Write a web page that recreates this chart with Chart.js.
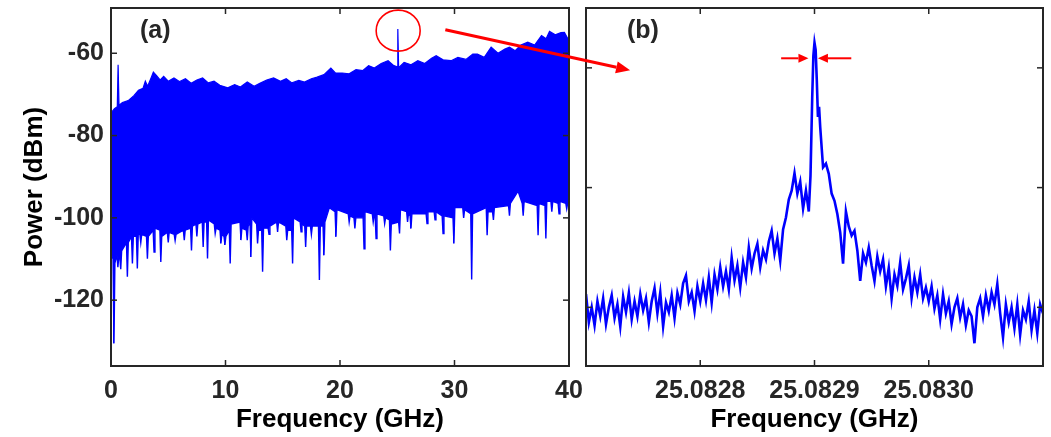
<!DOCTYPE html>
<html><head><meta charset="utf-8">
<script src="https://cdn.jsdelivr.net/npm/chart.js@4.4.1/dist/chart.umd.min.js"></script>
<style>
html,body{margin:0;padding:0;background:#fff;overflow:hidden}
#wrap{position:relative;width:1051px;height:437px}
canvas{position:absolute;top:0}
</style></head><body>
<div id="wrap">
<canvas id="ca" width="610" height="437" style="left:0"></canvas>
<canvas id="cb" width="473" height="437" style="left:578px"></canvas>
<canvas id="ov" width="1051" height="437" style="left:0;pointer-events:none"></canvas>
</div>
<script>
// ---------- Panel (a): full-span spectrum, upper & lower envelopes ----------
const upperFreqGHz = [0,0.3,0.55,0.62,0.7,1.0,1.5,2.0,2.4,2.8,3.0,3.2,3.5,3.7,4.0,4.3,4.6,5.0,5.5,6.0,6.5,7.0,7.5,8.0,8.5,9.0,9.5,10.2,10.8,11.3,11.9,12.5,13.0,13.6,14.2,14.8,15.3,15.8,16.4,16.9,17.5,18.0,18.6,19.2,19.6,20.2,20.8,21.4,22.0,22.5,23.0,23.6,24.2,24.7,25.0,25.05,25.12,25.6,26.2,26.8,27.4,28.0,28.4,29.0,29.7,30.3,31.0,31.6,32.0,32.6,33.2,33.8,34.4,34.8,35.3,35.8,36.4,37.0,37.6,38.0,38.3,38.8,39.3,39.6,39.9,40.0];
const upperPowerDBm = [-74.5,-73.5,-73.0,-62.8,-72.6,-72.0,-71.5,-70.3,-69.0,-68.5,-66.8,-68.0,-66.0,-64.6,-65.5,-66.5,-65.6,-66.8,-66.0,-66.9,-66.2,-67.3,-66.5,-66.0,-67.2,-66.8,-67.8,-68.4,-67.6,-68.2,-67.0,-68.0,-67.3,-66.5,-66.0,-66.8,-66.2,-67.2,-66.6,-67.0,-66.2,-65.8,-65.2,-63.6,-64.8,-64.8,-65.0,-64.0,-64.2,-63.0,-63.6,-62.5,-61.8,-63.0,-63.3,-54.1,-63.5,-62.2,-62.8,-61.8,-62.5,-61.2,-60.6,-61.6,-61.8,-61.0,-61.5,-60.2,-60.2,-61.0,-58.5,-60.0,-59.0,-58.5,-59.4,-58.0,-57.3,-58.0,-55.7,-56.5,-54.7,-55.5,-55.0,-54.9,-56.5,-57.0];
// lower edge: solid-floor level on each side of every narrow downward spike
const lowerFreqGHz = [0.0,
  0.18,0.26,0.34, 0.52,0.6,0.68, 0.77,0.85,0.93, 1.35,1.43,1.51, 1.79,1.87,1.95,
  2.22,2.3,2.38, 2.52,2.6,2.68, 3.1,3.18,3.26, 3.68,3.76,3.84, 4.27,4.35,4.43,
  4.92,5.0,5.08, 5.52,5.6,5.68, 6.32,6.4,6.48, 6.95,7.03,7.11, 7.42,7.5,7.58,
  7.97,8.05,8.13, 8.35,8.43,8.51, 9.02,9.1,9.18, 9.52,9.6,9.68, 9.87,9.95,10.03,
  10.33,10.41,10.49, 11.27,11.35,11.43, 11.82,11.9,11.98, 12.14,12.22,12.3, 12.72,12.8,12.88,
  13.16,13.24,13.32, 13.72,13.8,13.88, 14.47,14.55,14.63, 15.27,15.35,15.43, 15.78,15.86,15.94,
  16.52,16.6,16.68, 16.92,17.0,17.08, 17.42,17.5,17.58, 18.12,18.2,18.28, 18.52,18.6,18.68,
  19.07,
  19.57,19.65,19.73, 20.72,20.8,20.88, 21.22,21.3,21.38, 22.02,22.1,22.18, 22.82,22.9,22.98,
  23.07,23.15,23.23, 23.82,23.9,23.98, 24.32,24.4,24.48, 25.12,25.2,25.28, 25.82,25.9,25.98,
  26.12,26.2,26.28, 27.52,27.6,27.68, 28.22,28.3,28.38, 28.92,29.0,29.08, 29.87,29.95,30.03,
  30.72,30.8,30.88, 31.42,31.5,31.58, 32.77,32.85,32.93, 33.32,33.4,33.48, 34.72,34.8,34.88,
  35.55,
  35.92,36.0,36.08, 37.22,37.3,37.38, 37.9,37.98,38.06, 38.42,38.5,38.58, 39.05,39.13,39.21,
  39.72,39.8,39.88, 40.0];
const lowerPowerDBm = [-108.7,
  -110,-130.5,-111, -109,-112,-109.5, -109.5,-112.5,-108, -106,-114.3,-106, -104.5,-111.1,-104.5,
  -104.5,-112.3,-104, -104,-106,-104, -104.5,-109.9,-104.5, -103,-108.3,-102.5, -103,-110.7,-104.5,
  -103.5,-106,-103.5, -104,-105.5,-104, -103,-105.4,-103, -102.5,-107.9,-102, -101.5,-104.5,-101.5,
  -101,-107.1,-101, -101,-109.9,-100.5, -101.5,-103.8,-102.5, -103,-106.2,-104, -104.5,-106.6,-104.5,
  -103,-111.1,-101.5, -101,-105.4,-102.5, -103,-105.4,-102, -101,-109.5,-100, -101.5,-106.2,-103,
  -103,-113.1,-102.5, -102.5,-104,-102, -101,-103.4,-101, -102,-105.4,-103, -103,-111.1,-100,
  -101,-103.4,-101.5, -102,-107.1,-102, -102,-104,-102, -102,-115.1,-102, -102,-109.1,-101,
  -97.5,
  -98.5,-104.6,-98, -99,-101,-99.5, -100,-102.6,-100, -100,-107.5,-98.5, -99,-101,-99.5,
  -99.5,-105.0,-99, -99.5,-101.4,-100, -100.5,-107.9,-101.5, -101,-103.8,-98, -98.5,-101,-99,
  -99.5,-102.6,-99, -99,-101.4,-98.5, -98.5,-100.5,-98.5, -99.5,-103.8,-99.5, -100,-106.2,-97.5,
  -97.5,-100,-98, -99,-115.0,-99, -97.5,-104.2,-98.5, -98.5,-100.5,-97.5, -97,-99.5,-96.5,
  -93.5,
  -96.5,-99.5,-96, -97,-104.2,-96.5, -97,-105.0,-96, -96,-98.5,-96, -96.5,-99.0,-96,
  -96.5,-97.8,-96.5, -97];
const leftXTicks = [0,10,20,30,40];
const leftYTicks = [-120,-100,-80,-60];

// ---------- Panel (b): zoom on the 25.0829 GHz line ----------
const zoomBaseGHz = 25.0827;
const zoomOffsetKHz = [
  0,2.5,5,7.5,10,12.5,15,17.5,20,
  22.5,25,27.5,30,32.5,35,37.5,40,42.5,45,47.5,50,
  52.5,55,57.5,60,62.5,65,67.5,70,72.5,75,77.5,80,
  82.5,85,87.5,90,92.5,95,97.5,100,
  102.5,105,107.5,110,112.5,115,117.5,120,
  122.5,125,127.5,130,132.5,135,137.5,140,
  142.5,145,147.5,150,152.5,155,157.5,160,
  162.5,165,167.5,170,172.5,175,
  177.5,180,182.5,185,187.5,190,192.5,195,
  196.5,198,199,200,201,202,203,204,205,
  207.5,210,212.5,215,217.5,220,222.5,225,227.5,230,
  232.5,235,237.5,240,242.5,245,247.5,250,252.5,255,
  257.5,260,262.5,265,267.5,270,272.5,275,277.5,280,
  282.5,285,287.5,290,292.5,295,297.5,300,302.5,305,
  307.5,310,312.5,315,317.5,320,322.5,325,327.5,330,
  332.5,335,337.5,340,342.5,345,347.5,350,352.5,355,
  357.5,360,362.5,365,367.5,370,372.5,375,377.5,380,
  382.5,385,387.5,390,392.5,395,397.5,400];
const zoomPowerDBm = [
  -97.8,-102.5,-100.0,-103.0,-99.0,-101.5,-98.5,-102.8,-100.0,
  -98.0,-101.8,-99.5,-103.2,-98.2,-100.8,-97.6,-102.0,-99.0,-101.5,-97.8,-100.5,
  -98.5,-102.5,-99.0,-96.8,-101.0,-97.5,-103.2,-99.2,-100.8,-98.0,-101.8,-97.6,
  -99.5,-96.0,-94.7,-99.0,-97.5,-100.6,-96.5,-99.0,
  -96.0,-98.8,-95.0,-99.2,-94.5,-97.0,-93.3,-96.5,
  -94.0,-97.0,-91.7,-95.5,-93.0,-96.7,-92.5,-95.0,
  -90.0,-93.5,-91.0,-89.4,-93.3,-90.5,-92.0,-89.0,
  -87.2,-91.0,-88.5,-92.2,-87.0,-85.0,
  -82.0,-80.5,-77.6,-81.0,-79.0,-83.5,-80.5,-84.0,
  -78.0,-65.0,-58.0,-55.8,-57.0,-62.0,-68.2,-66.5,-69.9,
  -76.6,-76.0,-77.7,-81.0,-82.2,-84.4,-87.5,-92.7,-84.0,-86.5,
  -88.0,-87.2,-90.5,-95.6,-91.0,-92.5,-90.0,-93.0,-95.6,-91.5,
  -94.0,-92.0,-96.5,-93.4,-98.5,-94.5,-96.4,-92.5,-97.0,-95.2,
  -93.0,-98.4,-95.0,-97.5,-94.5,-98.5,-96.7,-99.0,-96.5,-100.2,
  -98.0,-102.0,-97.8,-101.0,-99.0,-102.8,-100.0,-98.5,-101.7,-99.5,
  -103.0,-100.5,-101.5,-106.0,-100.0,-98.5,-101.5,-98.0,-100.5,-97.5,
  -99.5,-96.1,-101.0,-105.0,-99.5,-102.5,-100.0,-103.5,-99.5,-104.6,
  -100.5,-102.0,-99.0,-103.8,-100.5,-104.3,-99.5,-101.0];
const rightXTicks = [25.0828, 25.0829, 25.0830];
const rightYTicks = [-100, -80, -60];

// ---------- annotations (red marks) ----------
const circleMark = {freqGHz: 25.08, powerDBm: -54.5, rx: 22, ry: 20.5};
const zoomArrow = {fromGHz: 29.2, fromDBm: -54.3, toKHz: 38.6, toDBm: -60.4};
const widthArrows = [
  {fromKHz: 170.8, toKHz: 194.7, dBm: -58.4},
  {fromKHz: 232.2, toKHz: 203.0, dBm: -58.4}
];

// ---------- styling ----------
const FONT = "'Liberation Sans', Arial, sans-serif";
const AXIS_COLOR = '#262626';
const BLUE = '#0000ff';
const RED = '#ff0000';
Chart.defaults.font.family = FONT;

const zip = (xs, ys) => xs.slice(0, Math.min(xs.length, ys.length)).map((x, i) => ({x, y: ys[i]}));

const framePlugin = {
  id: 'frame',
  afterDraw(chart, args, opts) {
    const {ctx, chartArea: a, scales} = chart;
    ctx.save();
    ctx.strokeStyle = AXIS_COLOR;
    ctx.lineWidth = 1.5;
    const L = 6;
    const seg = (x1, y1, x2, y2) => { ctx.beginPath(); ctx.moveTo(x1, y1); ctx.lineTo(x2, y2); ctx.stroke(); };
    for (const t of scales.x.ticks) {
      const x = scales.x.getPixelForValue(t.value);
      seg(x, a.bottom, x, a.bottom - L);
      seg(x, a.top, x, a.top + L);
    }
    for (const t of scales.y.ticks) {
      const y = scales.y.getPixelForValue(t.value);
      seg(a.left, y, a.left + L, y);
      seg(a.right, y, a.right - L, y);
    }
    ctx.lineWidth = 2;
    ctx.strokeRect(a.left, a.top, a.right - a.left, a.bottom - a.top);
    ctx.fillStyle = AXIS_COLOR;
    ctx.font = `bold 25px ${FONT}`;
    ctx.textAlign = 'left';
    ctx.textBaseline = 'alphabetic';
    ctx.fillText(opts.label, a.left + opts.dx, a.top + opts.dy);
    ctx.restore();
  }
};

const tickFont = {size: 25, weight: 'bold'};
const titleFont = {size: 26, weight: 'bold'};

function xAxis(min, max, ticks, fmt) {
  return {
    type: 'linear', min, max,
    afterBuildTicks: s => { s.ticks = ticks.map(v => ({value: v})); },
    afterFit: s => { s.height = 71; s.paddingLeft = 0; s.paddingRight = 0; },
    grid: {display: false, drawTicks: false},
    border: {display: false},
    ticks: {font: tickFont, color: AXIS_COLOR, padding: 10, maxRotation: 0, autoSkip: false,
            callback: v => fmt(v)},
    title: {display: true, text: 'Frequency (GHz)', font: titleFont, color: '#000', padding: {top: 0, bottom: 2}}
  };
}

const chartA = new Chart(document.getElementById('ca'), {
  type: 'line',
  data: {datasets: [
    {data: zip(upperFreqGHz, upperPowerDBm), borderColor: BLUE, backgroundColor: BLUE, borderWidth: 1.2, pointRadius: 0, fill: '+1', tension: 0},
    {data: zip(lowerFreqGHz, lowerPowerDBm), borderColor: BLUE, backgroundColor: BLUE, borderWidth: 1.4, pointRadius: 0, fill: false, tension: 0}
  ]},
  options: {
    responsive: false, animation: false, events: [],
    layout: {padding: {top: 8, right: 41, left: 0, bottom: 0}},
    plugins: {legend: {display: false}, tooltip: {enabled: false}, frame: {label: '(a)', dx: 29, dy: 30}},
    scales: {
      x: xAxis(0, 40, leftXTicks, v => String(v)),
      y: {
        type: 'linear', min: -136, max: -49,
        afterBuildTicks: s => { s.ticks = leftYTicks.map(v => ({value: v})); },
        afterFit: s => { s.width = 111; s.paddingTop = 0; s.paddingBottom = 0; },
        grid: {display: false, drawTicks: false},
        border: {display: false},
        ticks: {font: tickFont, color: AXIS_COLOR, padding: 7},
        title: {display: true, text: 'Power (dBm)', font: titleFont, color: '#000', padding: {top: 19, bottom: 0}}
      }
    }
  },
  plugins: [framePlugin]
});

const chartB = new Chart(document.getElementById('cb'), {
  type: 'line',
  data: {datasets: [
    {data: zip(zoomOffsetKHz.map(k => zoomBaseGHz + k / 1e6), zoomPowerDBm), borderColor: BLUE, borderWidth: 2.6, pointRadius: 0, fill: false, tension: 0}
  ]},
  options: {
    responsive: false, animation: false, events: [],
    layout: {padding: {top: 8, right: 8, left: 0, bottom: 0}},
    plugins: {legend: {display: false}, tooltip: {enabled: false}, frame: {label: '(b)', dx: 41, dy: 30}},
    scales: {
      x: xAxis(25.0827, 25.0831, rightXTicks, v => Number(v).toFixed(4)),
      y: {
        type: 'linear', min: -109.8, max: -50,
        afterBuildTicks: s => { s.ticks = rightYTicks.map(v => ({value: v})); },
        afterFit: s => { s.width = 8; s.paddingTop = 0; s.paddingBottom = 0; },
        grid: {display: false, drawTicks: false},
        border: {display: false},
        ticks: {display: false}
      }
    }
  },
  plugins: [framePlugin]
});

// ---------- overlay annotations ----------
(function drawOverlay() {
  const ov = document.getElementById('ov').getContext('2d');
  const offB = 578;
  const ax = v => chartA.scales.x.getPixelForValue(v), ay = v => chartA.scales.y.getPixelForValue(v);
  const bx = k => offB + chartB.scales.x.getPixelForValue(zoomBaseGHz + k / 1e6), by = v => chartB.scales.y.getPixelForValue(v);
  function arrow(x1, y1, x2, y2, lw, hl, hw) {
    const ang = Math.atan2(y2 - y1, x2 - x1);
    const bxp = x2 - hl * Math.cos(ang), byp = y2 - hl * Math.sin(ang);
    ov.strokeStyle = RED; ov.fillStyle = RED; ov.lineWidth = lw;
    ov.beginPath(); ov.moveTo(x1, y1); ov.lineTo(bxp, byp); ov.stroke();
    ov.beginPath();
    ov.moveTo(x2, y2);
    ov.lineTo(bxp + hw * Math.sin(ang), byp - hw * Math.cos(ang));
    ov.lineTo(bxp - hw * Math.sin(ang), byp + hw * Math.cos(ang));
    ov.closePath(); ov.fill();
  }
  ov.strokeStyle = RED; ov.lineWidth = 1.6;
  ov.beginPath();
  ov.ellipse(ax(circleMark.freqGHz), ay(circleMark.powerDBm), circleMark.rx, circleMark.ry, 0, 0, Math.PI * 2);
  ov.stroke();
  arrow(ax(zoomArrow.fromGHz), ay(zoomArrow.fromDBm), bx(zoomArrow.toKHz), by(zoomArrow.toDBm), 3, 14, 6);
  for (const w of widthArrows) arrow(bx(w.fromKHz), by(w.dBm), bx(w.toKHz), by(w.dBm), 2, 10, 4.5);
})();
</script>
</body></html>
